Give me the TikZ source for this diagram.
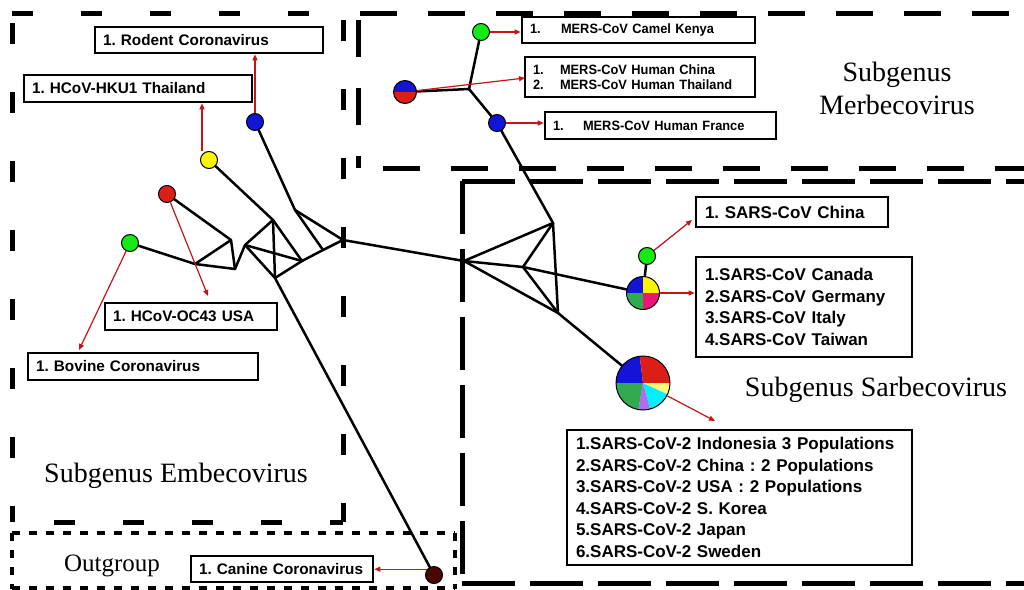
\documentclass[tikz,border=0pt]{standalone}
\usepackage{fontspec}
\setmainfont{Liberation Sans}
\newfontfamily\seriffont{Liberation Serif}
\newfontfamily\narrowfont[FakeStretch=0.95]{Liberation Sans}
\usetikzlibrary{arrows.meta}
\frenchspacing
\definecolor{cred}{RGB}{200,20,20}
\definecolor{dotgreen}{RGB}{20,235,20}
\definecolor{dotblue}{RGB}{20,20,215}
\definecolor{dotred}{RGB}{220,30,25}
\definecolor{dotyellow}{RGB}{255,245,0}
\definecolor{dotdark}{RGB}{75,5,5}
\definecolor{piegreen}{RGB}{50,170,80}
\definecolor{piemag}{RGB}{235,20,120}
\definecolor{piecyan}{RGB}{0,240,255}
\definecolor{piepurple}{RGB}{175,110,240}
\definecolor{pieyellow}{RGB}{255,250,120}
\newcommand{\pieslice}[5]{\fill[#5] (#1) -- ++(#2:#4) arc[start angle=#2, end angle=#3, radius=#4] -- cycle;}
\tikzset{
  embd/.style={line width=5pt, dash pattern=on 21pt off 48pt},
  merd/.style={line width=5pt, dash pattern=on 37pt off 31pt},
  sard/.style={line width=5pt, dash pattern=on 53pt off 15pt},
  outd/.style={line width=4.5pt, dash pattern=on 8pt off 9pt},
  dot/.style={circle, draw=black, line width=1pt, minimum size=17pt, inner sep=0pt},
  edge/.style={line width=2.5pt, black, line cap=round, line join=round},
  redarrow/.style={draw=cred, line width=1.2pt, -{Triangle[length=6pt,width=5pt]}},
  lbl/.style={draw=black, line width=2.6pt, fill=white, inner xsep=8pt, inner ysep=0pt, align=left, font=\bfseries\fontsize{15.3}{18}\selectfont},
  mlbl/.style={draw=black, line width=2.6pt, fill=white, inner xsep=8pt, inner ysep=0pt, align=left, font=\narrowfont\bfseries\fontsize{13.5}{15}\selectfont},
  slbl/.style={draw=black, line width=2.6pt, fill=white, inner xsep=9pt, inner ysep=0pt, align=left, font=\bfseries\fontsize{17}{21.5}\selectfont},
  genus/.style={font=\seriffont\fontsize{28}{33}\selectfont, align=center, inner sep=0pt}
}
\begin{document}
\begin{tikzpicture}[x=1pt,y=-1pt]
\useasboundingbox (0,0) rectangle (1024,589);
\clip (0,0) rectangle (1024,589);
\fill[white] (0,0) rectangle (1024,589);
% ---- dashed group boxes ----
% Embecovirus
\draw[embd] (12,13) -- (343,13);
\draw[embd] (12,23) -- (12,522);
\draw[embd, dash phase=8pt] (343,522) -- (12,522);
\draw[embd] (343,20) -- (343,522);
% Merbecovirus
\draw[merd] (360,13) -- (1040,13);
\draw[merd] (358,20) -- (358,168);
\draw[merd] (383,168) -- (1040,168);
% Sarbecovirus
\draw[sard] (462,181) -- (1040,181);
\draw[sard] (462,181) -- (462,583);
\draw[sard] (462,583) -- (1040,583);
% Outgroup
\draw[outd] (12,533) -- (455,533);
\draw[outd] (12,533) -- (12,589);
\draw[outd] (12,588) -- (455,588);
\draw[outd] (455,533) -- (455,589);
% ---- network junctions ----
\coordinate (A) at (195,264);
\coordinate (B) at (231,240);
\coordinate (C) at (235,269);
\coordinate (D) at (245,245);
\coordinate (E) at (273,220);
\coordinate (F) at (275,278);
\coordinate (G) at (302,261);
\coordinate (H) at (323,250);
\coordinate (I) at (295,210);
\coordinate (J) at (343,240);
\coordinate (K) at (464,261);
\coordinate (L) at (553,223);
\coordinate (M) at (523,267);
\coordinate (N) at (558,313);
\coordinate (P) at (469,89);
% ---- haplotype nodes ----
\node[dot, fill=dotblue] (rod) at (255,122) {};
\node[dot, fill=dotyellow] (hku) at (209,160) {};
\node[dot, fill=dotred] (oc) at (167,194) {};
\node[dot, fill=dotgreen] (bov) at (130,243) {};
\node[dot, fill=dotdark] (can) at (434,575) {};
\node[dot, fill=dotgreen] (camel) at (481,32) {};
\node[dot, fill=dotblue] (fra) at (497,123) {};
\node[dot, fill=dotgreen] (sch) at (647,256) {};
% MERS two-colour node
\coordinate (mc) at (405,92);
\pieslice{mc}{-180}{0}{11.5}{dotblue}
\pieslice{mc}{0}{180}{11.5}{dotred}
\node[circle, draw=black, line width=1pt, minimum size=23pt, inner sep=0pt] (mhum) at (mc) {};
% SARS-CoV four-colour node
\coordinate (sc) at (643,293);
\pieslice{sc}{-180}{-90}{16.5}{dotblue}
\pieslice{sc}{-90}{0}{16.5}{dotyellow}
\pieslice{sc}{0}{90}{16.5}{piemag}
\pieslice{sc}{90}{180}{16.5}{piegreen}
\node[circle, draw=black, line width=1pt, minimum size=33pt, inner sep=0pt] (spie) at (sc) {};
% SARS-CoV-2 six-colour node
\coordinate (bc) at (643,383);
\pieslice{bc}{-180}{-97}{27}{dotblue}
\pieslice{bc}{-97}{0}{27}{dotred}
\pieslice{bc}{0}{25}{27}{pieyellow}
\pieslice{bc}{25}{75}{27}{piecyan}
\pieslice{bc}{75}{100}{27}{piepurple}
\pieslice{bc}{100}{180}{27}{piegreen}
\node[circle, draw=black, line width=1pt, minimum size=54pt, inner sep=0pt] (bpie) at (bc) {};
% ---- network edges ----
\draw[edge] (oc) -- (B);
\draw[edge] (bov) -- (A);
\draw[edge] (A) -- (B) -- (C) -- (A);
\draw[edge] (C) -- (D);
\draw[edge] (D) -- (E);
\draw[edge] (D) -- (G);
\draw[edge] (D) -- (F);
\draw[edge] (E) -- (F);
\draw[edge] (E) -- (G);
\draw[edge] (F) -- (G);
\draw[edge] (G) -- (H) -- (J);
\draw[edge] (I) -- (H);
\draw[edge] (I) -- (J);
\draw[edge] (hku) -- (E);
\draw[edge] (rod) -- (I);
\draw[edge] (F) -- (can);
\draw[edge] (J) -- (K);
\draw[edge] (K) -- (L);
\draw[edge] (K) -- (M);
\draw[edge] (K) -- (N);
\draw[edge] (L) -- (M);
\draw[edge] (L) -- (N);
\draw[edge] (M) -- (N);
\draw[edge] (M) -- (spie);
\draw[edge] (N) -- (bpie);
\draw[edge] (sch) -- (spie);
\draw[edge] (L) -- (fra);
\draw[edge] (fra) -- (P);
\draw[edge] (camel) -- (P);
\draw[edge] (mhum) -- (P);
% ---- label boxes ----
\node[lbl, text width=212pt, minimum height=26pt] (trod) at (209,40) {\mbox{1. Rodent Coronavirus}};
\node[lbl, text width=212pt, minimum height=27pt] (thku) at (138,88.5) {\mbox{1. HCoV-HKU1 Thailand}};
\node[lbl, text width=156pt, minimum height=27pt] (toc) at (191,316.5) {\mbox{1. HCoV-OC43 USA}};
\node[lbl, text width=214pt, minimum height=27pt] (tbov) at (143,366.5) {\mbox{1. Bovine Coronavirus}};
\node[lbl, text width=166pt, minimum height=26pt] (tcan) at (282,569) {\mbox{1. Canine Coronavirus}};
\node[mlbl, text width=217pt, minimum height=26pt] (tcamel) at (638.5,30) {\mbox{\makebox[31pt][l]{1.}MERS-CoV Camel Kenya}};
\node[mlbl, text width=214pt, minimum height=40pt] (tmhum) at (640,77) {\mbox{\makebox[27pt][l]{1.}MERS-CoV Human China}\\\mbox{\makebox[27pt][l]{2.}MERS-CoV Human Thailand}};
\node[mlbl, text width=215pt, minimum height=27pt] (tfra) at (660.5,125.5) {\mbox{\makebox[30pt][l]{1.}MERS-CoV Human France}};
\node[slbl, text width=174pt, minimum height=30pt] (tsch) at (792,212) {\mbox{1. SARS-CoV China}};
\node[slbl, text width=198pt, minimum height=100pt] (tspie) at (804,307) {\mbox{1.SARS-CoV Canada}\\\mbox{2.SARS-CoV Germany}\\\mbox{3.SARS-CoV Italy}\\\mbox{4.SARS-CoV Taiwan}};
\node[slbl, text width=327pt, minimum height=135pt] (tbpie) at (739.5,497.5) {\mbox{1.SARS-CoV-2 Indonesia 3 Populations}\\\mbox{2.SARS-CoV-2 China : 2 Populations}\\\mbox{3.SARS-CoV-2 USA : 2 Populations}\\\mbox{4.SARS-CoV-2 S. Korea}\\\mbox{5.SARS-CoV-2 Japan}\\\mbox{6.SARS-CoV-2 Sweden}};
% ---- red pointer arrows ----
\draw[redarrow] (rod.north) -- (rod.north |- trod.south);
\draw[redarrow] (hku.north) ++(-7,0) coordinate (hkus) (hkus) -- (hkus |- thku.south);
\draw[redarrow] (oc) -- (208,296);
\draw[redarrow] (bov) -- (79,350);
\draw[redarrow] (can.140) -- (can.140 -| tcan.east);
\draw[redarrow] (camel.east) -- (camel.east -| tcamel.west);
\draw[redarrow] (mhum) -- (525,78);
\draw[redarrow] (fra.east) -- (fra.east -| tfra.west);
\draw[redarrow] (sch) -- (692,220);
\draw[redarrow] (spie.east) -- (spie.east -| tspie.west);
\draw[redarrow] (bpie) -- (715,421);
% ---- group titles ----
\node[genus] (gmer) at (897,88) {Subgenus\\Merbecovirus};
\node[genus] (gsar) at (876,390) {Subgenus Sarbecovirus};
\node[genus] (gemb) at (176,476) {Subgenus Embecovirus};
\node[genus, font=\seriffont\fontsize{25}{30}\selectfont] (gout) at (112,566) {Outgroup};
\end{tikzpicture}
\end{document}
